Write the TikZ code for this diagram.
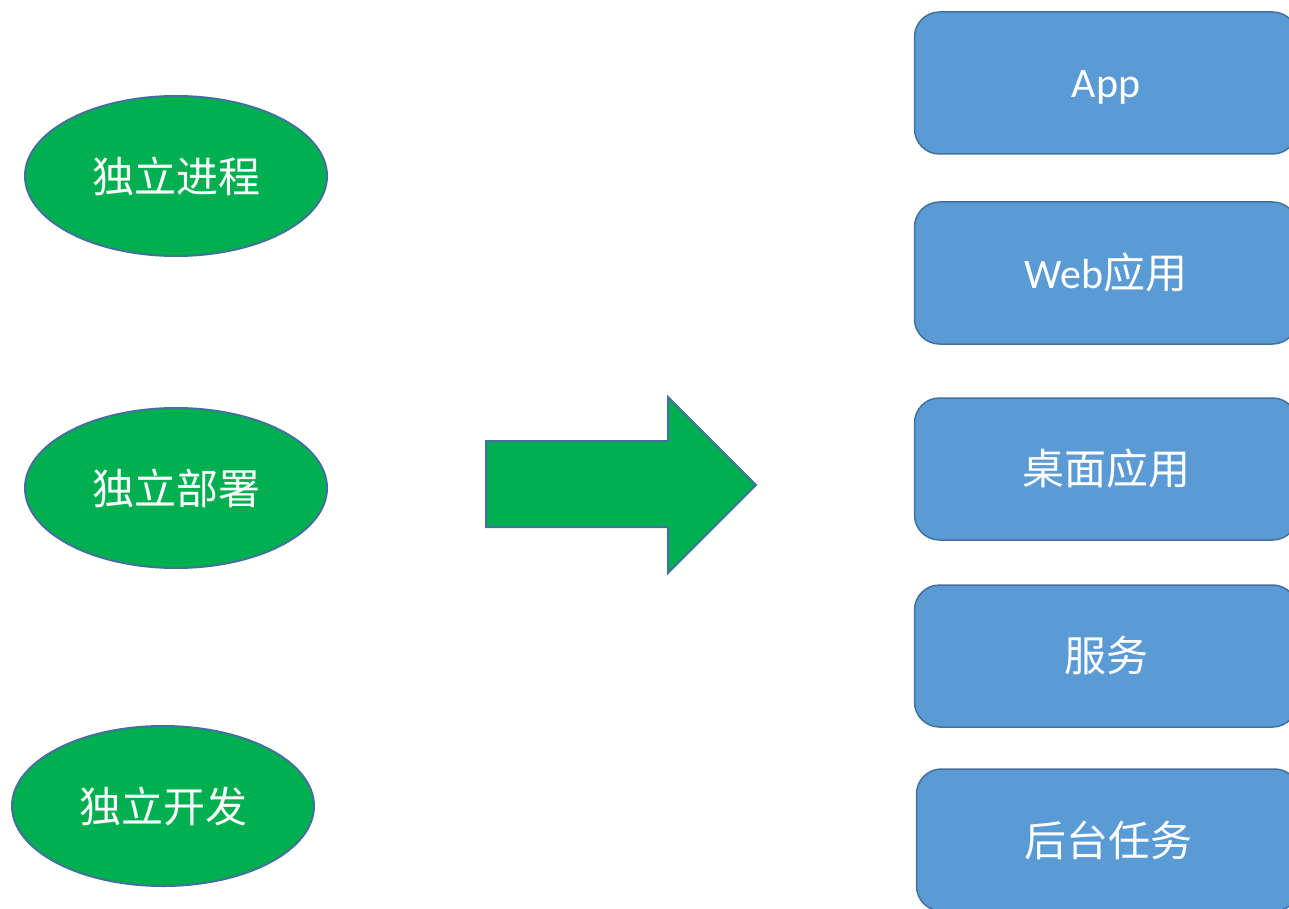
\documentclass[tikz,border=0pt]{standalone}
\usepackage{fontspec}
\setmainfont{Carlito}
\newfontfamily\cjk{Noto Sans CJK SC}
\usetikzlibrary{shapes.geometric}
\definecolor{ovalgreen}{HTML}{00B050}
\definecolor{boxblue}{HTML}{5B9BD5}
\definecolor{rimblue}{HTML}{41719C}

\begin{document}
\begin{tikzpicture}[x=0.5pt, y=-0.5pt,
    oval/.style={ellipse, draw=rimblue, fill=ovalgreen, line width=1pt,
      minimum width=151pt, minimum height=80pt, inner sep=0pt,
      text=white, font=\cjk\fontsize{21}{25}\selectfont},
    tile/.style={rectangle, rounded corners=12.5pt, draw=rimblue, fill=boxblue,
      line width=0.75pt, minimum width=191.5pt, minimum height=71pt,
      text=white, font=\fontsize{21}{25}\selectfont}]
  \useasboundingbox (0,0) rectangle (1289,909);
  \clip (0,0) rectangle (1289,909);

  \node (p1) [oval] at (176,176) {独立进程};
  \node (p2) [oval] at (176,488) {独立部署};
  \node (p3) [oval] at (163,806) {独立开发};

    \node (a1) [tile, text height=19pt, text depth=4pt] at (1106,83) {App};
    \node (a2) [tile] at (1106,273) {Web{\cjk 应用}};
    \node (a3) [tile] at (1106,469) {\cjk 桌面应用};
    \node (a4) [tile] at (1106,656) {\cjk 服务};
    \node (a5) [tile] at (1108,840) {\cjk 后台任务};

  % block arrow
  \draw[line width=1pt, draw=rimblue, fill=ovalgreen]
    (486,441) -- (668,441) -- (668,397) -- (756,485)
    -- (668,573) -- (668,527) -- (486,527) -- cycle;
\end{tikzpicture}
\end{document}
